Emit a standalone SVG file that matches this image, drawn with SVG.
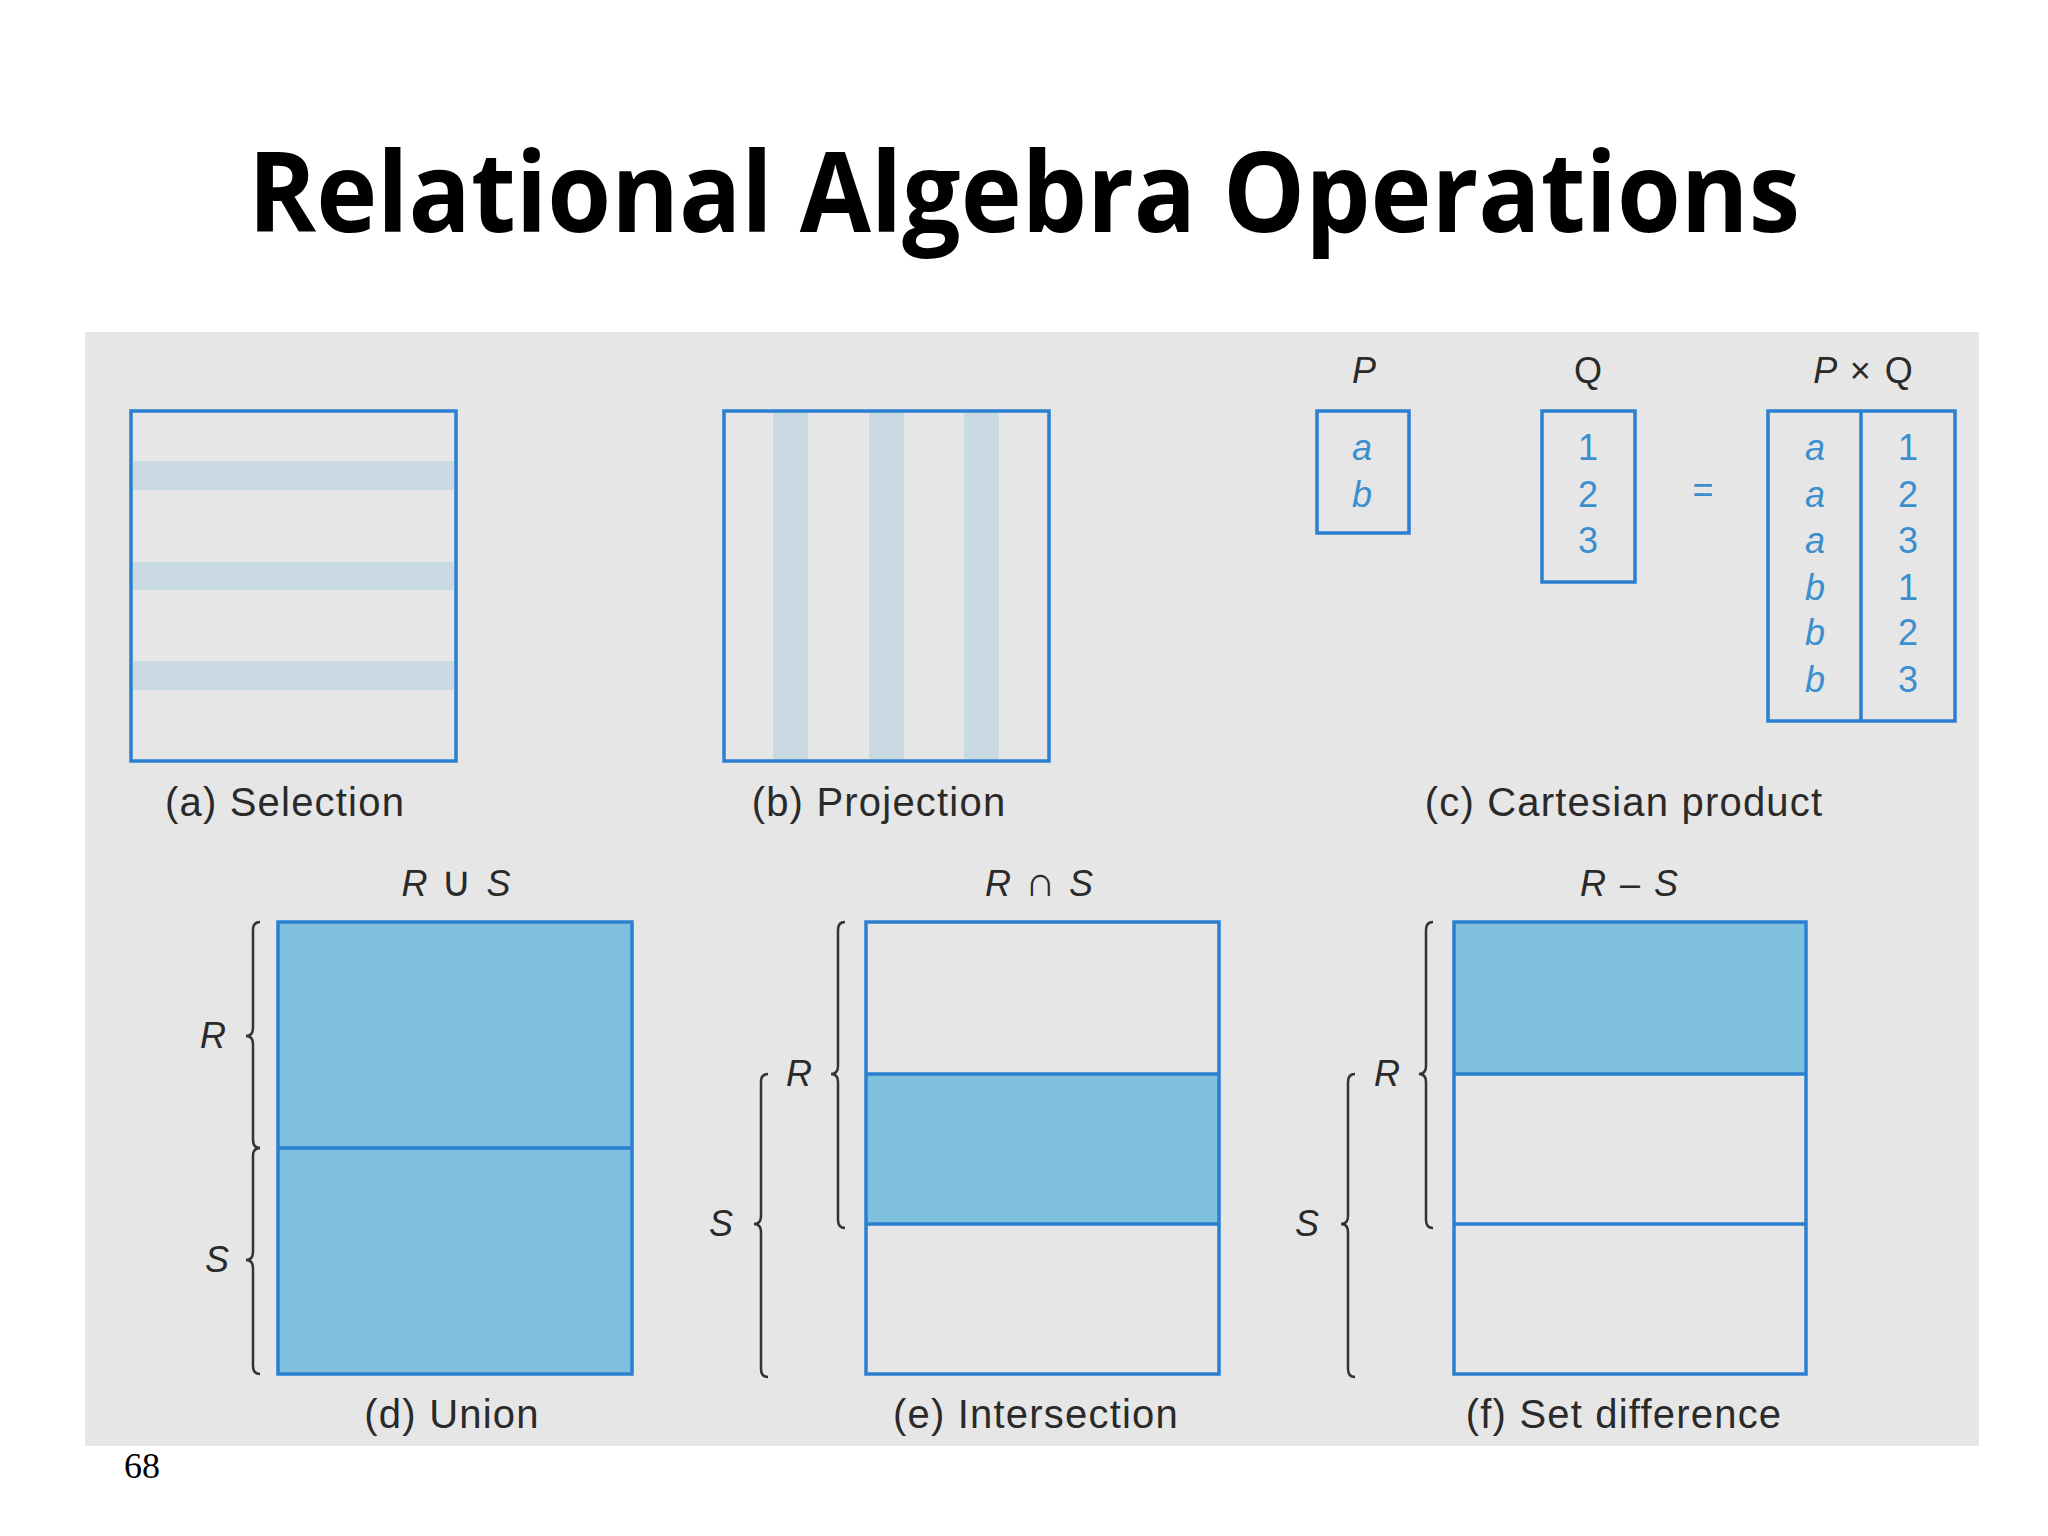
<svg xmlns="http://www.w3.org/2000/svg" width="2048" height="1536" viewBox="0 0 2048 1536">
<style>
.box{fill:none;stroke:#2a7fd0;stroke-width:3.5}
.fill{fill:#80c0df}
.stripe{fill:#c9dae3}
.lbl{font-family:"Liberation Sans",Arial,sans-serif;font-size:40px;letter-spacing:1.2px;fill:#2a2a2a;text-anchor:middle}
.it{font-family:"Liberation Sans",Arial,sans-serif;font-size:36px;fill:#2a2a2a;text-anchor:middle;font-style:italic}
.up{font-family:"Liberation Sans",Arial,sans-serif;font-size:36px;fill:#2a2a2a;text-anchor:middle}
.op{font-family:"Liberation Sans",Arial,sans-serif;font-size:36px;fill:#2a2a2a;text-anchor:middle;font-style:italic;letter-spacing:2px}
.val{font-family:"Liberation Sans",Arial,sans-serif;font-size:36px;fill:#3b8fcf;text-anchor:middle}
.brace{fill:none;stroke:#333;stroke-width:2.5}
</style>
<rect width="2048" height="1536" fill="#ffffff"/>
<text x="1024" y="232" font-family="'Open Sans',Lato,sans-serif" font-weight="700" font-size="112" text-anchor="middle" textLength="1552" lengthAdjust="spacingAndGlyphs" fill="#000">Relational Algebra Operations</text>
<rect x="85" y="332" width="1894" height="1114" fill="#e6e6e7"/>
<text x="142" y="1478" font-family="'Liberation Serif',serif" font-size="36" text-anchor="middle" fill="#000">68</text>

<g id="selection">
<rect class="stripe" x="133" y="461" width="321" height="29"/>
<rect class="stripe" x="133" y="562" width="321" height="28"/>
<rect class="stripe" x="133" y="661" width="321" height="29"/>
<rect class="box" x="131" y="411" width="325" height="350"/>
<text class="lbl" x="285" y="816">(a) Selection</text>
</g>

<g id="projection">
<rect class="stripe" x="773" y="413" width="35" height="346"/>
<rect class="stripe" x="869" y="413" width="35" height="346"/>
<rect class="stripe" x="964" y="413" width="35" height="346"/>
<rect class="box" x="724" y="411" width="325" height="350"/>
<text class="lbl" x="879" y="816">(b) Projection</text>
</g>

<g id="cartesian">
<text class="it" x="1364" y="383">P</text>
<text class="up" x="1588" y="383">Q</text>
<text class="op" x="1864" y="383">P <tspan font-style="normal">× Q</tspan></text>
<rect class="box" x="1317" y="411" width="92" height="122"/>
<text class="val" x="1362" y="460" font-style="italic">a</text>
<text class="val" x="1362" y="507" font-style="italic">b</text>
<rect class="box" x="1542" y="411" width="93" height="171"/>
<text class="val" x="1588" y="460">1</text>
<text class="val" x="1588" y="507">2</text>
<text class="val" x="1588" y="553">3</text>
<text class="val" x="1703" y="502">=</text>
<rect class="box" x="1768" y="411" width="187" height="310"/>
<line class="box" x1="1861" y1="411" x2="1861" y2="721"/>
<g class="val" font-style="italic">
<text x="1815" y="460">a</text><text x="1815" y="507">a</text><text x="1815" y="553">a</text>
<text x="1815" y="600">b</text><text x="1815" y="645">b</text><text x="1815" y="692">b</text>
</g>
<text class="val" x="1908" y="460">1</text><text class="val" x="1908" y="507">2</text><text class="val" x="1908" y="553">3</text>
<text class="val" x="1908" y="600">1</text><text class="val" x="1908" y="645">2</text><text class="val" x="1908" y="692">3</text>
<text class="lbl" x="1624" y="816">(c) Cartesian product</text>
</g>

<g id="union">
<text class="op" x="457" y="896">R <tspan font-style="normal" font-size="42">∪</tspan> S</text>
<rect class="fill" x="278" y="922" width="354" height="452"/>
<rect class="box" x="278" y="922" width="354" height="452"/>
<line class="box" x1="278" y1="1148" x2="632" y2="1148"/>
<path class="brace" d="M260,922 Q253,922 253,930 L253,1028 Q253,1036 246,1036 Q253,1036 253,1044 L253,1140 Q253,1148 260,1148"/>
<path class="brace" d="M260,1148 Q253,1148 253,1156 L253,1252 Q253,1260 246,1260 Q253,1260 253,1268 L253,1366 Q253,1374 260,1374"/>
<text class="it" x="213" y="1048">R</text>
<text class="it" x="217" y="1272">S</text>
<text class="lbl" x="452" y="1428">(d) Union</text>
</g>

<g id="intersection">
<text class="op" x="1040" y="896">R <tspan font-style="normal" font-size="42">∩</tspan> S</text>
<rect class="fill" x="866" y="1074" width="353" height="150"/>
<rect class="box" x="866" y="922" width="353" height="452"/>
<line class="box" x1="866" y1="1074" x2="1219" y2="1074"/>
<line class="box" x1="866" y1="1224" x2="1219" y2="1224"/>
<path class="brace" d="M845,922 Q838,922 838,930 L838,1066 Q838,1074 831,1074 Q838,1074 838,1082 L838,1220 Q838,1228 845,1228"/>
<path class="brace" d="M768,1074 Q761,1074 761,1082 L761,1216 Q761,1224 754,1224 Q761,1224 761,1232 L761,1369 Q761,1377 768,1377"/>
<text class="it" x="799" y="1086">R</text>
<text class="it" x="721" y="1236">S</text>
<text class="lbl" x="1036" y="1428">(e) Intersection</text>
</g>

<g id="difference">
<text class="op" x="1630" y="896">R <tspan font-style="normal">–</tspan> S</text>
<rect class="fill" x="1454" y="922" width="352" height="152"/>
<rect class="box" x="1454" y="922" width="352" height="452"/>
<line class="box" x1="1454" y1="1074" x2="1806" y2="1074"/>
<line class="box" x1="1454" y1="1224" x2="1806" y2="1224"/>
<path class="brace" d="M1433,922 Q1426,922 1426,930 L1426,1066 Q1426,1074 1419,1074 Q1426,1074 1426,1082 L1426,1220 Q1426,1228 1433,1228"/>
<path class="brace" d="M1355,1074 Q1348,1074 1348,1082 L1348,1216 Q1348,1224 1341,1224 Q1348,1224 1348,1232 L1348,1369 Q1348,1377 1355,1377"/>
<text class="it" x="1387" y="1086">R</text>
<text class="it" x="1307" y="1236">S</text>
<text class="lbl" x="1624" y="1428">(f) Set difference</text>
</g>
</svg>
